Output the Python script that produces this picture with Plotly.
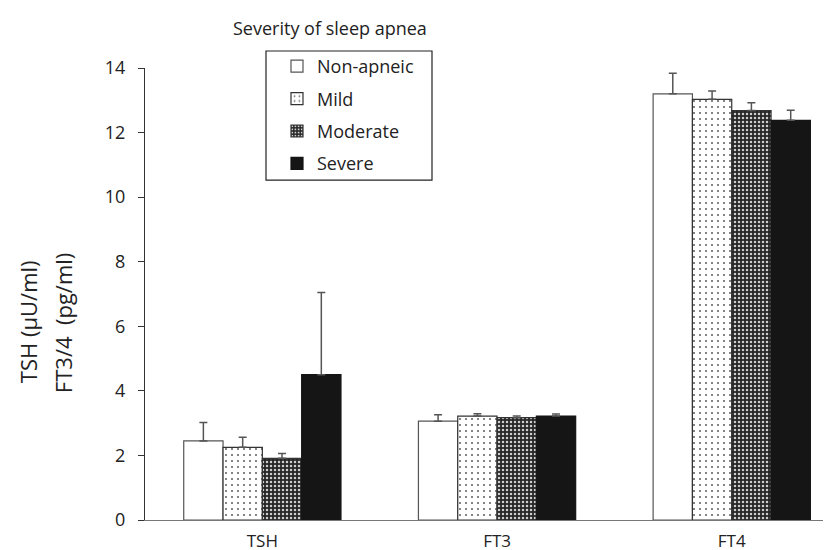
import plotly.graph_objects as go

categories = ["TSH", "FT3", "FT4"]
groups = ["Non-apneic", "Mild", "Moderate", "Severe"]
means = {
    "Non-apneic": [2.45, 3.06, 13.20],
    "Mild": [2.25, 3.22, 13.03],
    "Moderate": [1.91, 3.17, 12.68],
    "Severe": [4.50, 3.22, 12.38],
}
errors = {
    "Non-apneic": [0.57, 0.20, 0.64],
    "Mild": [0.31, 0.07, 0.26],
    "Moderate": [0.15, 0.05, 0.24],
    "Severe": [2.55, 0.06, 0.31],
}
y_ticks = [0, 2, 4, 6, 8, 10, 12, 14]

styles = {
    "Non-apneic": dict(bg="white", fg="white", shape="", size=6, sol=0.2, line="#555555"),
    "Mild": dict(bg="white", fg="#666666", shape=".", size=6, sol=0.1, line="#333333"),
    "Moderate": dict(bg="#262626", fg="#cfcfcf", shape=".", size=4, sol=0.3, line="#333333"),
    "Severe": dict(bg="#151515", fg="#151515", shape="", size=6, sol=0.2, line="#151515"),
}

FONT = "Open Sans, Noto Sans, DejaVu Sans, sans-serif"
W, H = 831, 550
L, T, B = 137, 60, 38.3
PW = W - L
PH = H - T - B


def px_to_paper_x(px):
    return (px - L) / PW


def px_to_paper_y(py):
    return (H - B - py) / PH


fig = go.Figure()
for g in groups:
    s = styles[g]
    fig.add_trace(go.Bar(
        name=g,
        x=categories,
        y=means[g],
        legendgroup=g,
        marker=dict(
            color=s["bg"],
            line=dict(color=s["line"], width=1.2),
            pattern=dict(shape=s["shape"], bgcolor=s["bg"], fgcolor=s["fg"],
                         size=s["size"], solidity=s["sol"], fillmode="replace"),
        ),
        error_y=dict(type="data", array=errors[g], arrayminus=[0] * len(categories),
                     symmetric=False, color="#555555", thickness=1.5, width=4),
    ))

fig.update_layout(
    width=W, height=H,
    margin=dict(l=L, r=0, t=T, b=B),
    plot_bgcolor="white", paper_bgcolor="white",
    barmode="group", bargap=0.33, bargroupgap=0,
    font=dict(family=FONT, size=16, color="#222222"),
    showlegend=True,
    legend=dict(
        x=px_to_paper_x(269), y=px_to_paper_y(40), xanchor="left", yanchor="top",
        bgcolor="rgba(0,0,0,0)", borderwidth=0,
        traceorder="grouped", tracegroupgap=6,
        font=dict(family=FONT, size=18, color="#222222"),
    ),
    xaxis=dict(
        range=[-0.5, 2.457], showline=True, linecolor="#777777", linewidth=1.3,
        ticks="", showgrid=False, zeroline=False,
        tickfont=dict(size=17, family=FONT, color="#222222"),
        ticklabelstandoff=5,
    ),
    yaxis=dict(
        range=[0, 14], tickvals=y_ticks, showline=True, linecolor="#333333", linewidth=1.2,
        ticks="outside", ticklen=6, tickcolor="#333333", showgrid=False, zeroline=False,
        tickfont=dict(size=18, family=FONT, color="#222222"),
        ticklabelstandoff=9,
    ),
    shapes=[dict(type="rect", xref="paper", yref="paper",
                 x0=px_to_paper_x(258), x1=px_to_paper_x(424),
                 y0=px_to_paper_y(172), y1=px_to_paper_y(43),
                 line=dict(color="#222222", width=1.2), fillcolor="rgba(0,0,0,0)")],
    annotations=[
        dict(text="Severity of sleep apnea", xref="paper", yref="paper",
             x=px_to_paper_x(223), y=px_to_paper_y(20), xanchor="left", yanchor="middle",
             showarrow=False, font=dict(size=18, family=FONT, color="#222222")),
        dict(text="TSH (µU/ml)", xref="paper", yref="paper", x=0, y=px_to_paper_y(314),
             xshift=20 - L, xanchor="center", yanchor="middle", textangle=-90,
             showarrow=False, font=dict(size=22, family=FONT, color="#222222")),
        dict(text="FT3/4  (pg/ml)", xref="paper", yref="paper", x=0, y=px_to_paper_y(315),
             xshift=55 - L, xanchor="center", yanchor="middle", textangle=-90,
             showarrow=False, font=dict(size=22, family=FONT, color="#222222")),
    ],
)

fig.write_html("out.html")
